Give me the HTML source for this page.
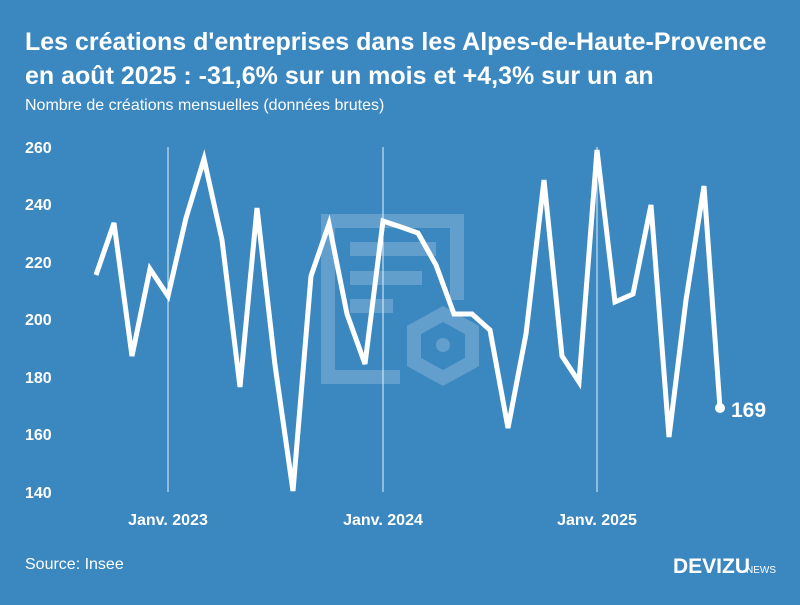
<!DOCTYPE html>
<html><head><meta charset="utf-8"><style>
body{margin:0;width:800px;height:600px;background:#3b87c0;font-family:"Liberation Sans",sans-serif;overflow:hidden}
</style></head><body>
<svg width="800" height="600" viewBox="0 0 800 600" xmlns="http://www.w3.org/2000/svg" font-family="Liberation Sans, sans-serif">
<rect width="800" height="600" fill="#3b87c0"/>
<text x="25" y="50" font-size="25" font-weight="bold" fill="#fff">Les créations d'entreprises dans les Alpes-de-Haute-Provence</text>
<text x="25" y="84" font-size="25" font-weight="bold" fill="#fff">en août 2025 : -31,6% sur un mois et +4,3% sur un an</text>
<text x="25" y="110" font-size="16" fill="#fff">Nombre de créations mensuelles (données brutes)</text>
<g fill="none" stroke="rgba(255,255,255,0.2)" stroke-width="14">
<polyline points="400,377 328,377 328,221 457,221 457,300"/>
</g>
<g fill="rgba(255,255,255,0.2)">
<rect x="350" y="242" width="86" height="14"/>
<rect x="350" y="271" width="72" height="14"/>
<rect x="350" y="299" width="43" height="14"/>
<circle cx="443" cy="345" r="7"/>
</g>
<polygon points="443,314 472,330 472,362 443,378 414,362 414,330" fill="none" stroke="rgba(255,255,255,0.2)" stroke-width="14"/>
<g stroke="#e6f0f8" stroke-width="1">
<line x1="168" y1="147" x2="168" y2="492"/><line x1="383" y1="147" x2="383" y2="492"/><line x1="597" y1="147" x2="597" y2="492"/>
</g>
<g font-size="16" font-weight="bold" fill="#fff">
<text x="25" y="153">260</text><text x="25" y="210">240</text><text x="25" y="268">220</text><text x="25" y="325">200</text><text x="25" y="383">180</text><text x="25" y="440">160</text><text x="25" y="498">140</text>
<text x="168" y="525" text-anchor="middle">Janv. 2023</text><text x="383" y="525" text-anchor="middle">Janv. 2024</text><text x="597" y="525" text-anchor="middle">Janv. 2025</text>
</g>
<polyline fill="none" stroke="#fff" stroke-width="5" stroke-linejoin="miter" points="96,275 114,223 132,356 150,269 168,296 186,218 204,159 222,240 240,387 257,208 275,365 293,491 311,276 329,224 347,314 365,364 383,221 401,227 418,233 436,265 454,314 472,314 490,330 508,428 526,334 544,180 562,356 579,382 597,150 615,302 633,294 651,205 669,437 686,300 704,186 720,408"/>
<circle cx="720" cy="408" r="5" fill="#fff"/>
<text x="731" y="417" font-size="21" font-weight="bold" fill="#fff">169</text>
<text x="25" y="569" font-size="16" fill="#fff">Source: Insee</text>
<text x="673" y="573" font-size="21" font-weight="bold" fill="#fff">DEVIZU</text>
<text x="746" y="573" font-size="10" fill="#fff">NEWS</text>
</svg>
</body></html>
